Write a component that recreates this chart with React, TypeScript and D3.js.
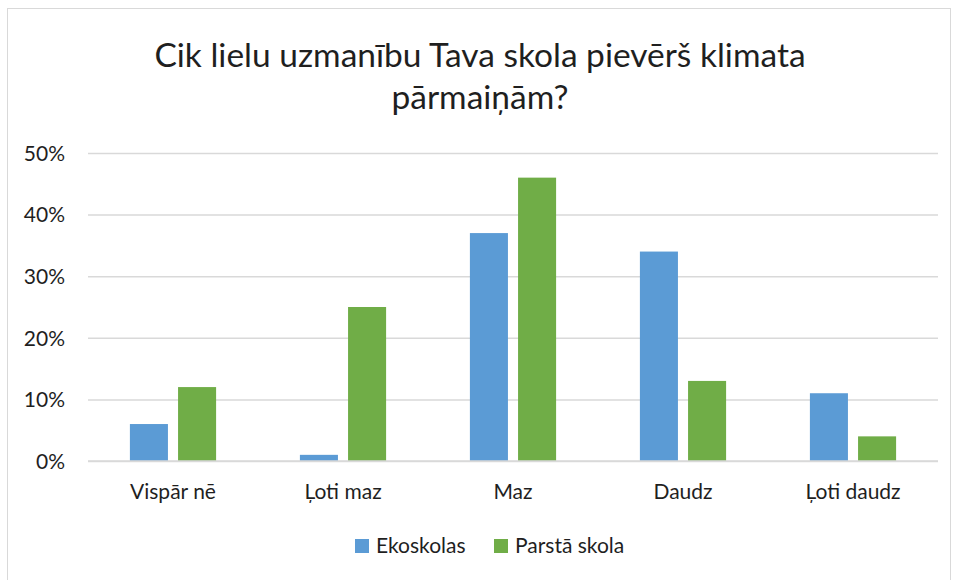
import { useEffect, useRef } from 'react';
import * as d3 from 'd3';

const WIDTH = 955;
const HEIGHT = 580;
const MARGIN = { top: 153, right: 17, bottom: 119, left: 88 };

const titleLines = ['Cik lielu uzmanību Tava skola pievērš klimata', 'pārmaiņām?'];
const categories = ['Vispār nē', 'Ļoti maz', 'Maz', 'Daudz', 'Ļoti daudz'];
const seriesNames = ['Ekoskolas', 'Parstā skola'];
const ekoskolas = [6, 1, 37, 34, 11];
const parastaSkola = [12, 25, 46, 13, 4];
const yTicks = [0, 10, 20, 30, 40, 50];

const color = {
  bars: ['#5B9BD5', '#70AD47'],
  grid: '#d9d9d9',
  text: '#1f1f1f',
  border: '#d9d9d9',
};

const FONT = 'Lato, "Open Sans", sans-serif';
const LABEL_SIZE = 21;

const App = () => {
  const svgRef = useRef<SVGSVGElement>(null);

  useEffect(() => {
    const svg = d3.select(svgRef.current);
    svg.selectAll('*').remove();

    const boundsWidth = WIDTH - MARGIN.left - MARGIN.right;
    const boundsHeight = HEIGHT - MARGIN.top - MARGIN.bottom;

    // chart border
    svg
      .append('rect')
      .attr('x', 7.5)
      .attr('y', 8.5)
      .attr('width', 943)
      .attr('height', 580)
      .attr('fill', 'white')
      .attr('stroke', color.border);

    // title
    svg
      .append('text')
      .attr('x', 480)
      .attr('y', 67)
      .attr('text-anchor', 'middle')
      .attr('font-family', FONT)
      .attr('font-size', 33.5)
      .attr('fill', color.text)
      .selectAll('tspan')
      .data(titleLines)
      .join('tspan')
      .attr('x', 480)
      .attr('dy', (_, i) => (i ? 42 : 0))
      .text(d => d);

    const g = svg.append('g').attr('transform', `translate(${MARGIN.left},${MARGIN.top})`);

    const yScale = d3.scaleLinear().domain([0, 50]).range([boundsHeight, 0]);
    const x0 = d3.scaleBand<string>().domain(categories).range([0, boundsWidth]);
    const x1 = d3
      .scaleBand<string>()
      .domain(seriesNames)
      .range([0, x0.bandwidth()])
      .paddingInner(0.21)
      .paddingOuter(0.87);

    // gridlines + y labels
    const yAxis = d3
      .axisLeft(yScale)
      .tickValues(yTicks)
      .tickSize(-boundsWidth)
      .tickFormat(d => `${d}%`);
    g.append('g')
      .call(yAxis)
      .call(a => a.select('.domain').remove())
      .call(a => a.selectAll('.tick line').attr('stroke', color.grid).attr('stroke-width', 1.5))
      .call(a =>
        a
          .selectAll('.tick text')
          .attr('x', -23)
          .attr('dy', '0.35em')
          .attr('font-family', FONT)
          .attr('font-size', LABEL_SIZE)
          .attr('fill', color.text),
      );

    // bars
    const data = categories.map((c, i) => ({ c, values: [ekoskolas[i], parastaSkola[i]] }));
    g.append('g')
      .selectAll('g')
      .data(data)
      .join('g')
      .attr('transform', d => `translate(${x0(d.c)},0)`)
      .selectAll('rect')
      .data(d => d.values.map((v, i) => ({ v, s: seriesNames[i], i })))
      .join('rect')
      .attr('x', d => x1(d.s)!)
      .attr('y', d => yScale(d.v))
      .attr('width', x1.bandwidth())
      .attr('height', d => boundsHeight - yScale(d.v))
      .attr('fill', d => color.bars[d.i]);

    // x axis line redrawn over bars
    g.append('line')
      .attr('x1', 0)
      .attr('x2', boundsWidth)
      .attr('y1', boundsHeight)
      .attr('y2', boundsHeight)
      .attr('stroke', color.grid)
      .attr('stroke-width', 1.5);

    // category labels
    g.append('g')
      .selectAll('text')
      .data(categories)
      .join('text')
      .attr('x', d => x0(d)! + x0.bandwidth() / 2)
      .attr('y', boundsHeight + 38)
      .attr('text-anchor', 'middle')
      .attr('font-family', FONT)
      .attr('font-size', LABEL_SIZE)
      .attr('fill', color.text)
      .text(d => d);

    // legend
    const legendX = [355, 494];
    const legend = svg
      .append('g')
      .selectAll('g')
      .data(seriesNames)
      .join('g')
      .attr('transform', (_, i) => `translate(${legendX[i]},539)`);
    legend
      .append('rect')
      .attr('width', 14)
      .attr('height', 14)
      .attr('fill', (_, i) => color.bars[i]);
    legend
      .append('text')
      .attr('x', 21)
      .attr('y', 14)
      .attr('font-family', FONT)
      .attr('font-size', LABEL_SIZE)
      .attr('fill', color.text)
      .text(d => d);
  }, []);

  return (
    <svg
      ref={svgRef}
      width={WIDTH}
      height={HEIGHT}
      style={{ position: 'absolute', left: 0, top: 0, background: 'white' }}
    />
  );
};

export default App;
